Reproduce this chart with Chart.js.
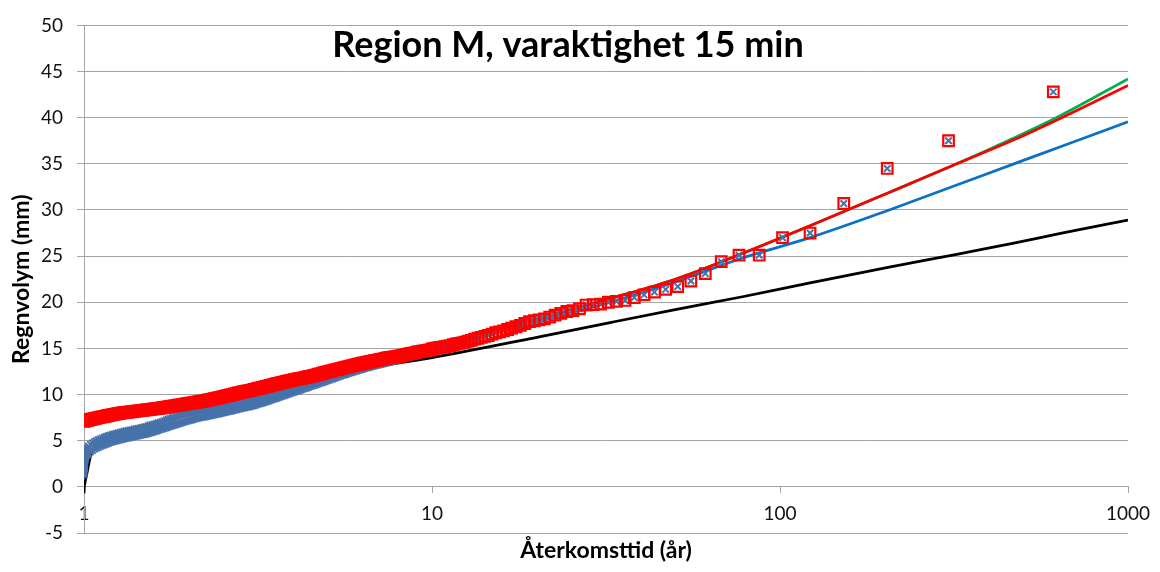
<!DOCTYPE html>
<html lang="sv">
<head>
<meta charset="utf-8">
<title>Region M, varaktighet 15 min</title>
<script src="https://cdn.jsdelivr.net/npm/chart.js@4.4.1/dist/chart.umd.min.js"></script>
<style>
  html, body { margin: 0; padding: 0; background: #ffffff; }
  #wrap { width: 1160px; height: 572px; }
</style>
</head>
<body>
<div id="wrap"><canvas id="chart" width="1160" height="572"></canvas></div>
<script>
// ---- Observed rain volumes, plotted against empirical return period ----
// Frequent events (return period close to 1 year): dense band of points.
const lowReturnPeriods = [
  1.0005, 1.001, 1.0015, 1.002, 1.003, 1.004, 1.005, 1.0065, 1.008, 1.01, 1.012, 1.015, 1.018, 1.021, 1.025,
  1.030, 1.044, 1.058, 1.072, 1.086, 1.100,
  1.115, 1.130, 1.145, 1.160, 1.175, 1.191,
  1.207, 1.223, 1.239, 1.255, 1.272, 1.289,
  1.306, 1.323, 1.341, 1.359, 1.377, 1.395,
  1.414, 1.433, 1.452, 1.471, 1.491, 1.511,
  1.531, 1.551, 1.572, 1.593, 1.614, 1.635,
  1.657, 1.679, 1.701, 1.724, 1.747, 1.770,
  1.794, 1.818, 1.842, 1.866, 1.891, 1.916,
  1.942, 1.968, 1.994, 2.021, 2.048, 2.075,
  2.103, 2.131, 2.159, 2.188, 2.217, 2.247,
  2.277, 2.307, 2.338, 2.369, 2.401, 2.433,
  2.465, 2.498, 2.531, 2.565, 2.599, 2.634,
  2.669, 2.705, 2.741, 2.777, 2.814, 2.852,
  2.890, 2.928, 2.967, 3.007, 3.047, 3.088,
  3.129, 3.171, 3.213, 3.256, 3.299, 3.343,
  3.388, 3.433, 3.479, 3.525, 3.572, 3.620,
  3.668, 3.717, 3.767, 3.817, 3.868, 3.919,
  3.971, 4.024, 4.078, 4.132, 4.187, 4.243,
  4.300, 4.357, 4.415, 4.474, 4.534, 4.594,
  4.655, 4.717, 4.780, 4.844, 4.908, 4.974,
  5.040, 5.107, 5.175, 5.244, 5.314, 5.385,
  5.457, 5.530, 5.603, 5.678, 5.754, 5.830,
  5.908, 5.987, 6.067, 6.148, 6.230, 6.313,
  6.397, 6.482, 6.568, 6.656, 6.744, 6.834,
  6.925, 7.018, 7.111, 7.206, 7.302, 7.399,
  7.498, 7.598, 7.699, 7.802, 7.906, 8.011
];
// Red squares in the frequent range (mm)
const lowRedValues = [
  7.15, 7.15, 7.15, 7.16, 7.16, 7.16, 7.17, 7.17, 7.18, 7.19, 7.19, 7.20, 7.21, 7.22, 7.23,
  7.25, 7.30, 7.35, 7.40, 7.45, 7.50,
  7.55, 7.59, 7.64, 7.68, 7.73, 7.77,
  7.82, 7.86, 7.90, 7.94, 7.98, 8.02,
  8.04, 8.07, 8.10, 8.12, 8.15, 8.17,
  8.20, 8.23, 8.25, 8.28, 8.31, 8.34,
  8.36, 8.39, 8.42, 8.45, 8.48, 8.51,
  8.54, 8.57, 8.60, 8.64, 8.67, 8.71,
  8.74, 8.78, 8.81, 8.85, 8.89, 8.92,
  8.96, 8.99, 9.03, 9.06, 9.10, 9.13,
  9.17, 9.21, 9.25, 9.29, 9.32, 9.37,
  9.42, 9.46, 9.51, 9.55, 9.60, 9.65,
  9.70, 9.75, 9.80, 9.85, 9.90, 9.95,
  10.00, 10.06, 10.11, 10.17, 10.22, 10.28,
  10.31, 10.36, 10.41, 10.46, 10.51, 10.56,
  10.61, 10.66, 10.72, 10.78, 10.83, 10.88,
  10.93, 10.99, 11.05, 11.11, 11.17, 11.22,
  11.27, 11.32, 11.37, 11.42, 11.47, 11.52,
  11.57, 11.62, 11.66, 11.71, 11.75, 11.79,
  11.84, 11.89, 11.93, 11.98, 12.03, 12.08,
  12.14, 12.20, 12.25, 12.31, 12.37, 12.43,
  12.48, 12.54, 12.59, 12.65, 12.70, 12.76,
  12.82, 12.87, 12.92, 12.97, 13.03, 13.08,
  13.14, 13.19, 13.24, 13.29, 13.34, 13.39,
  13.44, 13.49, 13.53, 13.58, 13.62, 13.67,
  13.71, 13.76, 13.81, 13.85, 13.90, 13.95,
  14.00, 14.03, 14.06, 14.09, 14.12, 14.15
];
// Blue crosses in the frequent range: upper and lower edge of the band (mm)
const lowBlueUpper = [
  1.60, 2.00, 2.30, 2.50, 2.80, 3.00, 3.15, 3.30, 3.45, 3.60, 3.70, 3.80, 3.95, 4.05, 4.20,
  4.40, 4.60, 4.75, 4.90, 5.00, 5.10,
  5.19, 5.28, 5.37, 5.45, 5.53, 5.60,
  5.67, 5.73, 5.79, 5.84, 5.90, 5.96,
  6.02, 6.06, 6.10, 6.15, 6.19, 6.24,
  6.29, 6.33, 6.38, 6.43, 6.48, 6.53,
  6.62, 6.68, 6.74, 6.80, 6.86, 6.92,
  6.99, 7.07, 7.15, 7.24, 7.32, 7.41,
  7.49, 7.58, 7.66, 7.75, 7.84, 7.92,
  7.96, 7.99, 8.03, 8.06, 8.10, 8.13,
  8.17, 8.21, 8.25, 8.29, 8.32, 8.37,
  8.42, 8.46, 8.51, 8.55, 8.60, 8.65,
  8.70, 8.75, 8.80, 8.85, 8.90, 8.95,
  9.00, 9.06, 9.11, 9.17, 9.22, 9.28,
  9.31, 9.36, 9.41, 9.46, 9.51, 9.56,
  9.61, 9.66, 9.72, 9.78, 9.83, 9.88,
  9.90, 9.98, 10.05, 10.13, 10.20, 10.28,
  10.35, 10.43, 10.50, 10.58, 10.65, 10.73,
  10.81, 10.88, 10.95, 11.02, 11.09, 11.17,
  11.24, 11.31, 11.39, 11.47, 11.54, 11.61,
  11.69, 11.76, 11.84, 11.91, 11.99, 12.07,
  12.14, 12.22, 12.29, 12.37, 12.45, 12.52,
  12.60, 12.68, 12.74, 12.81, 12.88, 12.95,
  13.02, 13.09, 13.15, 13.22, 13.28, 13.35,
  13.42, 13.49, 13.54, 13.59, 13.65, 13.70,
  13.76, 13.81, 13.87, 13.92, 13.98, 14.04,
  14.10, 14.15, 14.20, 14.25, 14.30, 14.35
];
const lowBlueLower = [
  1.30, 1.60, 1.90, 2.10, 2.40, 2.60, 2.75, 2.90, 3.05, 3.20, 3.30, 3.40, 3.45, 3.50, 3.55,
  3.60, 3.80, 3.95, 4.10, 4.20, 4.30,
  4.39, 4.48, 4.57, 4.65, 4.73, 4.80,
  4.87, 4.93, 4.99, 5.04, 5.10, 5.16,
  5.22, 5.26, 5.30, 5.35, 5.39, 5.44,
  5.49, 5.53, 5.58, 5.63, 5.68, 5.73,
  5.79, 5.85, 5.91, 5.98, 6.05, 6.12,
  6.20, 6.27, 6.34, 6.41, 6.48, 6.55,
  6.62, 6.69, 6.76, 6.83, 6.90, 6.97,
  7.04, 7.10, 7.16, 7.22, 7.28, 7.34,
  7.40, 7.45, 7.50, 7.54, 7.57, 7.62,
  7.67, 7.71, 7.76, 7.80, 7.85, 7.90,
  7.95, 8.00, 8.05, 8.10, 8.15, 8.20,
  8.25, 8.31, 8.36, 8.42, 8.47, 8.53,
  8.56, 8.61, 8.66, 8.71, 8.76, 8.81,
  8.89, 8.96, 9.02, 9.09, 9.16, 9.23,
  9.30, 9.38, 9.45, 9.53, 9.60, 9.68,
  9.75, 9.83, 9.90, 9.98, 10.05, 10.13,
  10.21, 10.28, 10.35, 10.42, 10.49, 10.57,
  10.64, 10.71, 10.79, 10.87, 10.94, 11.01,
  11.09, 11.16, 11.24, 11.31, 11.39, 11.47,
  11.54, 11.62, 11.69, 11.77, 11.85, 11.92,
  12.00, 12.08, 12.14, 12.21, 12.28, 12.35,
  12.42, 12.49, 12.55, 12.62, 12.68, 12.75,
  12.82, 12.89, 12.94, 12.99, 13.05, 13.10,
  13.16, 13.21, 13.27, 13.32, 13.38, 13.44,
  13.50, 13.55, 13.60, 13.65, 13.70, 13.75
];

// Rarer events: both point series coincide (return period in years, volume in mm)
const highReturnPeriods = [
  8.13, 8.24, 8.36, 8.47, 8.59, 8.71, 8.84, 8.97, 9.10, 9.24,
  9.38, 9.53, 9.68, 9.84, 10.00, 10.17, 10.34, 10.52, 10.70, 10.89,
  11.09, 11.30, 11.51, 11.73, 11.96, 12.20, 12.45, 12.71, 12.98, 13.26,
  13.56, 13.86, 14.19, 14.52, 14.88, 15.25, 15.64, 16.05, 16.49, 16.94,
  17.43, 17.94, 18.48, 19.06, 19.68, 20.33, 21.03, 21.79, 22.59, 23.46,
  24.40, 25.42, 26.52, 27.73, 29.05, 30.50, 32.11, 33.89, 35.88, 38.13,
  40.67, 43.57, 46.92, 50.83, 55.45, 61.00, 67.78, 76.25, 87.14, 101.7,
  122.0, 152.5, 203.3, 305.0, 610.0
];
const highValues = [
  14.20, 14.25, 14.30, 14.35, 14.40, 14.45, 14.50, 14.55, 14.62, 14.66,
  14.70, 14.74, 14.78, 14.85, 14.95, 15.00, 15.05, 15.10, 15.15, 15.20,
  15.25, 15.30, 15.40, 15.48, 15.55, 15.60, 15.68, 15.78, 15.88, 16.00,
  16.10, 16.20, 16.30, 16.40, 16.55, 16.70, 16.80, 16.90, 17.05, 17.20,
  17.35, 17.50, 17.70, 17.90, 18.00, 18.10, 18.20, 18.40, 18.60, 18.80,
  19.00, 19.10, 19.30, 19.70, 19.75, 19.80, 20.00, 20.10, 20.20, 20.50,
  20.80, 21.10, 21.40, 21.70, 22.30, 23.10, 24.40, 25.10, 25.10, 27.00,
  27.50, 30.70, 34.50, 37.50, 42.80
];

// ---- Fitted frequency curves ----
const blackFitReturnPeriods = [1, 1.002, 1.006, 1.02, 1.05, 1.2, 1.5, 2, 3, 5, 7, 10, 20, 32.5, 50, 78, 122, 206, 322, 470, 645, 1000];
const blackFitValues        = [-0.7, 0.0, 0.4, 1.5, 3.6, 5.0, 5.9, 7.3, 8.9, 11.5, 13.0, 14.0, 16.2, 17.8, 19.2, 20.6, 22.1, 23.8, 25.2, 26.4, 27.5, 28.9];

const fitReturnPeriods = [1.002, 1.006, 1.02, 1.05, 1.2, 1.5, 2, 3, 5, 10, 20, 32.5, 50, 78, 122, 206, 322, 470, 645, 1000];
const redFitValues     = [1.5, 2.1, 2.8, 3.9, 5.5, 6.5, 7.8, 9.3, 12.0, 15.1, 18.2, 20.4, 22.5, 25.3, 28.3, 31.9, 35.0, 37.6, 40.0, 43.5];
const greenFitValues   = [1.5, 2.1, 2.8, 3.9, 5.5, 6.5, 7.8, 9.3, 12.0, 15.1, 18.2, 20.4, 22.5, 25.3, 28.3, 31.9, 35.0, 37.8, 40.3, 44.2];
const blueFitValues    = [1.6, 2.2, 2.9, 4.0, 5.5, 6.5, 7.8, 9.3, 11.9, 14.9, 17.9, 20.0, 22.2, 24.8, 27.0, 30.0, 32.7, 35.0, 36.9, 39.55];

// ---- Axes ----
const xTickValues = [1, 10, 100, 1000];
const yTickStep = 5;
const yMin = -5, yMax = 50;

const chartTitle = 'Region M, varaktighet 15 min';
const xTitle = 'Återkomsttid (år)';
const yTitle = 'Regnvolym (mm)';

// ---- helpers ----
const toPoints = (xs, ys) => xs.map((x, i) => ({ x: x, y: ys[i] }));

const FONT = "Lato, 'Open Sans', 'Liberation Sans', sans-serif";
const GRID = '#a5a5a5';

// Chart heading, drawn inside the plot area near the top
const titlePlugin = {
  id: 'plotTitle',
  afterDraw(chart) {
    const { ctx } = chart;
    ctx.save();
    ctx.font = "bold 36px " + FONT;
    ctx.fillStyle = '#000000';
    ctx.textAlign = 'center';
    ctx.textBaseline = 'alphabetic';
    ctx.fillText(chartTitle, 568, 57);
    ctx.restore();
  }
};

function build() {
  Chart.defaults.font.family = FONT;
  const ctx = document.getElementById('chart').getContext('2d');

  new Chart(ctx, {
    type: 'scatter',
    data: {
      datasets: [
        {
          label: 'obs-röd',
          data: toPoints(lowReturnPeriods, lowRedValues).concat(toPoints(highReturnPeriods, highValues)),
          pointStyle: 'rect',
          pointRadius: 7.5,
          pointBorderWidth: 2.2,
          pointBorderColor: '#ff0000',
          pointBackgroundColor: 'rgba(255,255,255,0)',
          showLine: false,
          order: 0
        },
        {
          label: 'obs-blå',
          data: toPoints(lowReturnPeriods, lowBlueUpper)
            .concat(toPoints(lowReturnPeriods, lowBlueLower))
            .concat(toPoints(highReturnPeriods, highValues)),
          pointStyle: 'crossRot',
          pointRadius: 4.6,
          pointBorderWidth: 2,
          pointBorderColor: '#4672ab',
          pointBackgroundColor: '#4672ab',
          showLine: false,
          order: 1
        },
        {
          label: 'anpassning röd',
          data: toPoints(fitReturnPeriods, redFitValues),
          showLine: true, pointRadius: 0, borderColor: '#ff0000', borderWidth: 2.75,
          cubicInterpolationMode: 'monotone', order: 2
        },
        {
          label: 'anpassning grön',
          data: toPoints(fitReturnPeriods, greenFitValues),
          showLine: true, pointRadius: 0, borderColor: '#00b050', borderWidth: 2.75,
          cubicInterpolationMode: 'monotone', order: 3
        },
        {
          label: 'anpassning blå',
          data: toPoints(fitReturnPeriods, blueFitValues),
          showLine: true, pointRadius: 0, borderColor: '#0a72c6', borderWidth: 2.75,
          cubicInterpolationMode: 'monotone', order: 4
        },
        {
          label: 'anpassning svart',
          data: toPoints(blackFitReturnPeriods, blackFitValues),
          showLine: true, pointRadius: 0, borderColor: '#000000', borderWidth: 2.75,
          cubicInterpolationMode: 'monotone', order: 5
        }
      ]
    },
    options: {
      responsive: false,
      animation: false,
      devicePixelRatio: 1,
      events: [],
      layout: { padding: { top: 17, right: 32, bottom: 39, left: 0 } },
      plugins: {
        legend: { display: false },
        tooltip: { enabled: false },
        title: { display: false }
      },
      scales: {
        x: {
          type: 'logarithmic',
          min: 1,
          max: 1000,
          position: { y: 0 },
          grid: { display: true, drawOnChartArea: false, drawTicks: true, tickLength: 6, color: GRID },
          border: { display: true, color: GRID, width: 1 },
          afterBuildTicks: (scale) => { scale.ticks = xTickValues.map(v => ({ value: v })); },
          // the end labels may overhang the plot edges; keep the plot width fixed
          afterFit: (scale) => { scale.paddingLeft = 0; scale.paddingRight = 0; },
          ticks: {
            autoSkip: false, maxRotation: 0, minRotation: 0,
            padding: 10, color: '#111111',
            font: { size: 19 },
            callback: (v) => String(v)
          },
          title: {
            display: true, text: xTitle, color: '#000000',
            font: { size: 23, weight: 'bold' },
            padding: { top: 1, bottom: 0 }
          }
        },
        y: {
          min: yMin,
          max: yMax,
          grid: { color: GRID, tickLength: 7, lineWidth: 1 },
          border: { display: true, color: GRID, width: 1 },
          ticks: { stepSize: yTickStep, padding: 14, color: '#111111', font: { size: 19 } },
          afterFit: (scale) => { scale.width = 84; },
          title: {
            display: true, text: yTitle, color: '#000000',
            font: { size: 23, weight: 'bold' },
            padding: { top: 8, bottom: 0 }
          }
        }
      }
    },
    plugins: [titlePlugin]
  });
}

if (document.fonts && document.fonts.load) {
  Promise.all([
    document.fonts.load("19px Lato"),
    document.fonts.load("bold 36px Lato")
  ]).then(build, build);
} else {
  build();
}
</script>
</body>
</html>
